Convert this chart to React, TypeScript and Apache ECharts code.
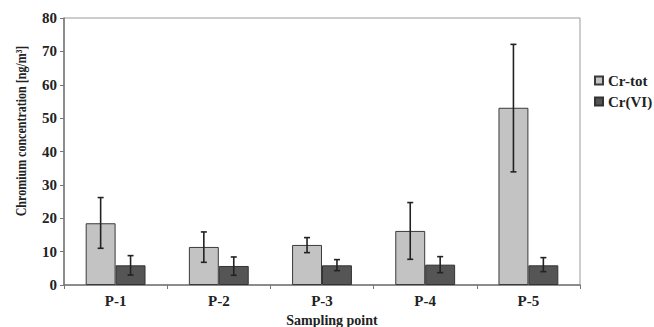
import React, { useEffect, useRef } from "react";
import * as echarts from "echarts";

const categories = ["P-1", "P-2", "P-3", "P-4", "P-5"];
const crTot = [18.5, 11.4, 12.0, 16.2, 53.1];
const crTotLow = [11.0, 6.8, 9.7, 7.7, 33.9];
const crTotHigh = [26.2, 15.9, 14.2, 24.7, 72.1];
const crVI = [5.9, 5.7, 5.9, 6.1, 5.9];
const crVILow = [3.0, 2.9, 4.3, 3.7, 4.0];
const crVIHigh = [8.8, 8.4, 7.6, 8.5, 8.2];
const yTicks = [0, 10, 20, 30, 40, 50, 60, 70, 80];

const FONT = "'Liberation Serif', 'Times New Roman', serif";
const CAT_GAP = 0.42;

function errorSeries(name: string, low: number[], high: number[], side: number) {
  return {
    type: "custom",
    name: name + "-err",
    silent: true,
    z: 10,
    data: categories.map((c, i) => [i, low[i], high[i]]),
    renderItem: (params: any, api: any) => {
      const idx = api.value(0);
      const lo = api.coord([idx, api.value(1)]);
      const hi = api.coord([idx, api.value(2)]);
      const band = api.size([1, 0])[0];
      const barW = (band * (1 - CAT_GAP)) / 2;
      const x = lo[0] + side * barW / 2;
      const cap = 3;
      const style = { stroke: "#222", lineWidth: 1.6 };
      return {
        type: "group",
        children: [
          { type: "line", shape: { x1: x, y1: lo[1], x2: x, y2: hi[1] }, style },
          { type: "line", shape: { x1: x - cap, y1: hi[1], x2: x + cap, y2: hi[1] }, style },
          { type: "line", shape: { x1: x - cap, y1: lo[1], x2: x + cap, y2: lo[1] }, style },
        ],
      };
    },
  };
}

export default function App() {
  const ref = useRef<HTMLDivElement>(null);
  useEffect(() => {
    if (!ref.current) return;
    const chart = echarts.init(ref.current, null, { renderer: "svg" });
    chart.setOption({
      animation: false,
      backgroundColor: "#fff",
      textStyle: { fontFamily: FONT },
      grid: {
        left: 64,
        right: 74,
        top: 18,
        bottom: 42,
        show: true,
        borderColor: "#999",
        borderWidth: 1,
      },
      legend: {
        orient: "vertical",
        left: 594,
        top: 73,
        padding: 0,
        itemWidth: 8,
        itemHeight: 8,
        itemGap: 6,
        icon: "rect",
        data: ["Cr-tot", "Cr(VI)"],
        textStyle: {
          fontFamily: FONT,
          fontWeight: "bold",
          fontSize: 15,
          color: "#222",
        },
      },
      xAxis: {
        type: "category",
        data: categories,
        axisLine: { lineStyle: { color: "#777", width: 1.5 } },
        axisTick: { show: true, length: 4, lineStyle: { color: "#777" } },
        axisLabel: { fontFamily: FONT, fontWeight: "bold", fontSize: 15, color: "#222", margin: 8 },
      },
      yAxis: {
        type: "value",
        min: 0,
        max: 80,
        interval: 10,
        axisLine: { show: true, lineStyle: { color: "#777", width: 1.5 } },
        axisTick: { show: true, length: 4, lineStyle: { color: "#777" } },
        splitLine: { show: false },
        axisLabel: {
          fontFamily: FONT,
          fontWeight: "bold",
          fontSize: 15,
          color: "#222",
          margin: 7,
          formatter: (v: number) => (yTicks.includes(v) ? String(v) : ""),
        },
      },
      graphic: [
        {
          type: "text",
          x: 21,
          y: 131,
          rotation: Math.PI / 2,
          scaleY: 1.15,
          style: {
            text: "Chromium concentration [ng/m³]",
            fontFamily: FONT,
            fontWeight: "bold",
            fontSize: 12,
            fill: "#222",
            align: "center",
            verticalAlign: "middle",
          },
        },
        {
          type: "text",
          x: 332,
          y: 320,
          style: {
            text: "Sampling point",
            fontFamily: FONT,
            fontWeight: "bold",
            fontSize: 14,
            fill: "#222",
            align: "center",
            verticalAlign: "middle",
          },
        },
      ],
      series: [
        {
          type: "bar",
          name: "Cr-tot",
          data: crTot,
          barGap: "0%",
          barCategoryGap: CAT_GAP * 100 + "%",
          itemStyle: { color: "#c3c3c3", borderColor: "#3a3a3a", borderWidth: 1 },
        },
        {
          type: "bar",
          name: "Cr(VI)",
          data: crVI,
          barGap: "0%",
          barCategoryGap: CAT_GAP * 100 + "%",
          itemStyle: { color: "#555555", borderColor: "#333", borderWidth: 1 },
        },
        errorSeries("Cr-tot", crTotLow, crTotHigh, -1),
        errorSeries("Cr(VI)", crVILow, crVIHigh, 1),
      ],
    });
    return () => chart.dispose();
  }, []);
  return (
    <div
      ref={ref}
      style={{ position: "absolute", left: 0, top: 0, width: 654, height: 327 }}
    />
  );
}
